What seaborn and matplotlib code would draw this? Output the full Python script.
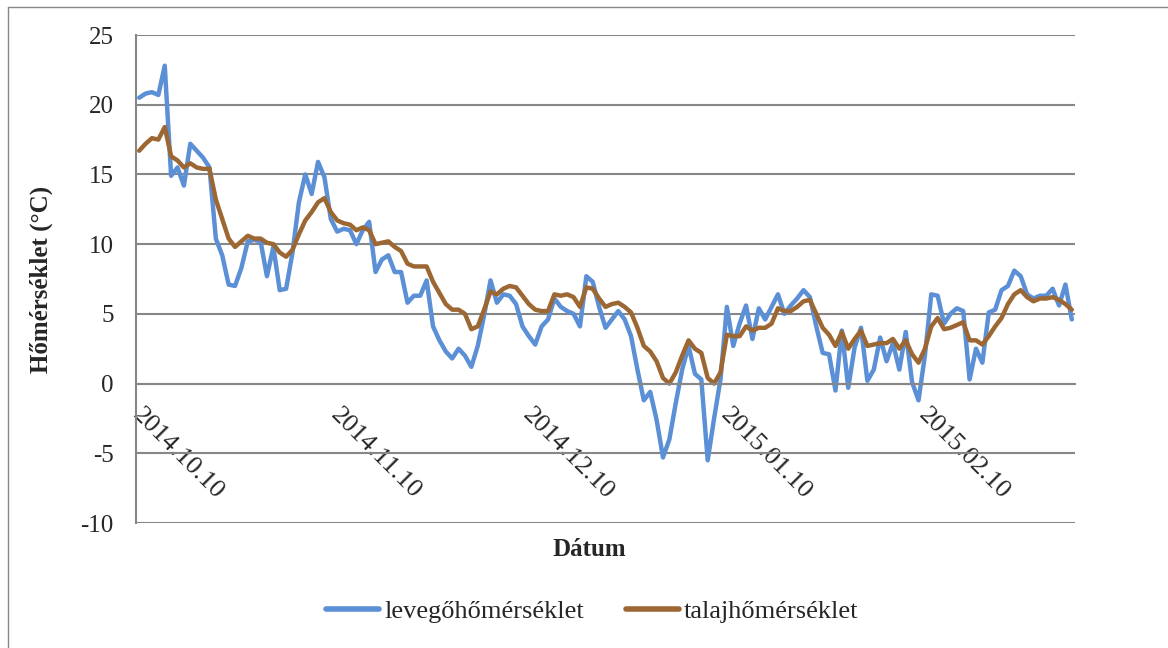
import matplotlib
matplotlib.use("Agg")
import matplotlib.pyplot as plt
import matplotlib.dates as mdates
from matplotlib.lines import Line2D
import numpy as np
import pandas as pd
import seaborn as sns

# napi adatok 2014.10.10-tol
start = "2014-10-10"

levego = [20.5, 20.8, 20.9, 20.7, 22.8, 14.9, 15.5, 14.2, 17.2, 16.7,
          16.2, 15.5, 10.4, 9.2, 7.1, 7.0, 8.3, 10.2, 10.3, 10.2,
          7.7, 9.8, 6.7, 6.8, 9.4, 13.0, 15.0, 13.6, 15.9, 14.8,
          11.8, 10.9, 11.1, 11.0, 10.0, 11.0, 11.6, 8.0, 8.9, 9.2,
          8.0, 8.0, 5.8, 6.3, 6.3, 7.4, 4.1, 3.1, 2.3, 1.8,
          2.5, 2.0, 1.2, 2.7, 4.9, 7.4, 5.8, 6.4, 6.3, 5.7,
          4.1, 3.4, 2.8, 4.1, 4.6, 6.1, 5.5, 5.2, 5.0, 4.1,
          7.7, 7.3, 5.5, 4.0, 4.6, 5.2, 4.6, 3.4, 1.0, -1.2,
          -0.6, -2.6, -5.3, -4.0, -1.4, 1.0, 2.7, 0.7, 0.3, -5.5,
          -2.5, 0.3, 5.5, 2.7, 4.3, 5.6, 3.2, 5.4, 4.6, 5.5,
          6.4, 5.0, 5.6, 6.1, 6.7, 6.2, 4.1, 2.2, 2.1, -0.5,
          3.8, -0.3, 2.6, 4.0, 0.2, 1.0, 3.3, 1.6, 2.9, 1.0,
          3.7, 0.1, -1.2, 2.0, 6.4, 6.3, 4.3, 5.0, 5.4, 5.2,
          0.3, 2.5, 1.5, 5.1, 5.3, 6.7, 7.0, 8.1, 7.7, 6.4,
          6.1, 6.3, 6.3, 6.8, 5.6, 7.1, 4.6]

talaj = [16.7, 17.2, 17.6, 17.5, 18.4, 16.3, 16.0, 15.5, 15.8, 15.5,
         15.4, 15.4, 13.2, 11.8, 10.4, 9.8, 10.2, 10.6, 10.4, 10.4,
         10.1, 10.0, 9.4, 9.1, 9.6, 10.7, 11.7, 12.3, 13.0, 13.3,
         12.3, 11.7, 11.5, 11.4, 11.0, 11.2, 11.0, 10.0, 10.1, 10.2,
         9.8, 9.5, 8.6, 8.4, 8.4, 8.4, 7.3, 6.5, 5.7, 5.3,
         5.3, 5.0, 3.9, 4.1, 5.3, 6.6, 6.4, 6.8, 7.0, 6.9,
         6.3, 5.7, 5.3, 5.2, 5.2, 6.4, 6.3, 6.4, 6.2, 5.5,
         6.9, 6.8, 6.1, 5.5, 5.7, 5.8, 5.5, 5.1, 4.0, 2.7,
         2.3, 1.6, 0.4, 0.0, 0.8, 2.0, 3.1, 2.5, 2.2, 0.4,
         0.0, 0.8, 3.5, 3.4, 3.4, 4.1, 3.8, 4.0, 4.0, 4.3,
         5.4, 5.2, 5.2, 5.5, 5.9, 6.0, 5.0, 4.0, 3.5, 2.7,
         3.7, 2.5, 3.2, 3.8, 2.7, 2.8, 2.9, 2.9, 3.2, 2.5,
         3.1, 2.1, 1.5, 2.5, 4.1, 4.7, 3.9, 4.0, 4.2, 4.4,
         3.1, 3.1, 2.8, 3.4, 4.1, 4.7, 5.7, 6.4, 6.7, 6.2,
         5.9, 6.1, 6.1, 6.2, 6.0, 5.7, 5.3]

tick_dates = ["2014-10-10", "2014-11-10", "2014-12-10", "2015-01-10", "2015-02-10"]
y_ticks = [-10, -5, 0, 5, 10, 15, 20, 25]

sns.set_style("white")
plt.rcParams["font.family"] = ["Liberation Serif", "DejaVu Serif"]
plt.rcParams["axes.unicode_minus"] = False

datum = pd.date_range(start, periods=len(levego), freq="D")
df = pd.DataFrame({"datum": datum, "levegőhőmérséklet": levego, "talajhőmérséklet": talaj})
df["datum"] = df["datum"] + pd.Timedelta(hours=12)  # Excel: pont a nap kozepen
long = df.melt(id_vars="datum", var_name="sor", value_name="ertek")

fig = plt.figure(figsize=(11.68, 6.48), dpi=100)
ax = fig.add_axes([136/1168, 1 - 523/648, (1075-136)/1168, (523-35)/648])

sns.lineplot(data=long, x="datum", y="ertek", hue="sor", ax=ax,
             palette={"levegőhőmérséklet": "#5B8FD6", "talajhőmérséklet": "#9C6733"},
             linewidth=3.2, legend=False)

gray = "#878787"
ax.set_ylim(-10, 25)
ax.set_xlim(pd.Timestamp(start), datum[-1] + pd.Timedelta(days=1))
ax.set_yticks(y_ticks)
ax.set_yticklabels([str(v) for v in y_ticks])
ax.set_xticks(pd.to_datetime(tick_dates))
ax.xaxis.set_major_formatter(mdates.DateFormatter("%Y.%m.%d"))
ax.yaxis.grid(True, color=gray, linewidth=1.5)
ax.xaxis.grid(False)
ax.set_axisbelow(True)

for s in ["top", "right"]:
    ax.spines[s].set_visible(False)
ax.spines["left"].set_color(gray)
ax.spines["left"].set_linewidth(1.5)
ax.spines["bottom"].set_position(("data", 0))
ax.spines["bottom"].set_color(gray)
ax.spines["bottom"].set_linewidth(1.5)

ax.tick_params(axis="y", direction="out", length=6, width=1.5, color=gray, pad=10, labelsize=18)
ax.tick_params(axis="x", direction="out", length=6, width=1.5, color=gray, pad=14, labelsize=19)
for lab in ax.get_xticklabels():
    lab.set_rotation(-45)
    lab.set_ha("left")
    lab.set_va("center")
    lab.set_rotation_mode("anchor")

ax.set_xlabel("Dátum", fontsize=18, fontweight="bold")
ax.xaxis.set_label_coords(0.483, -0.03)
ax.xaxis.label.set_va("top")
ax.set_ylabel("Hőmérséklet (°C)", fontsize=18, fontweight="bold")
ax.yaxis.set_label_coords(-0.088, 0.5)

handles = [Line2D([], [], color="#5B8FD6", linewidth=4, solid_capstyle="round"),
           Line2D([], [], color="#9C6733", linewidth=4, solid_capstyle="round")]
fig.legend(handles, ["levegőhőmérséklet", "talajhőmérséklet"], loc="center",
           bbox_to_anchor=(0.507, 0.056), ncol=2, frameon=False, fontsize=19,
           handlelength=2.0, handletextpad=0.2, columnspacing=1.6)

# diagram keret
fig.add_artist(Line2D([8/1168, 8/1168], [0, 1 - 7/648], color=gray, linewidth=1))
fig.add_artist(Line2D([8/1168, 1], [1 - 7/648, 1 - 7/648], color=gray, linewidth=1))

fig.savefig("out.png", dpi=100)
